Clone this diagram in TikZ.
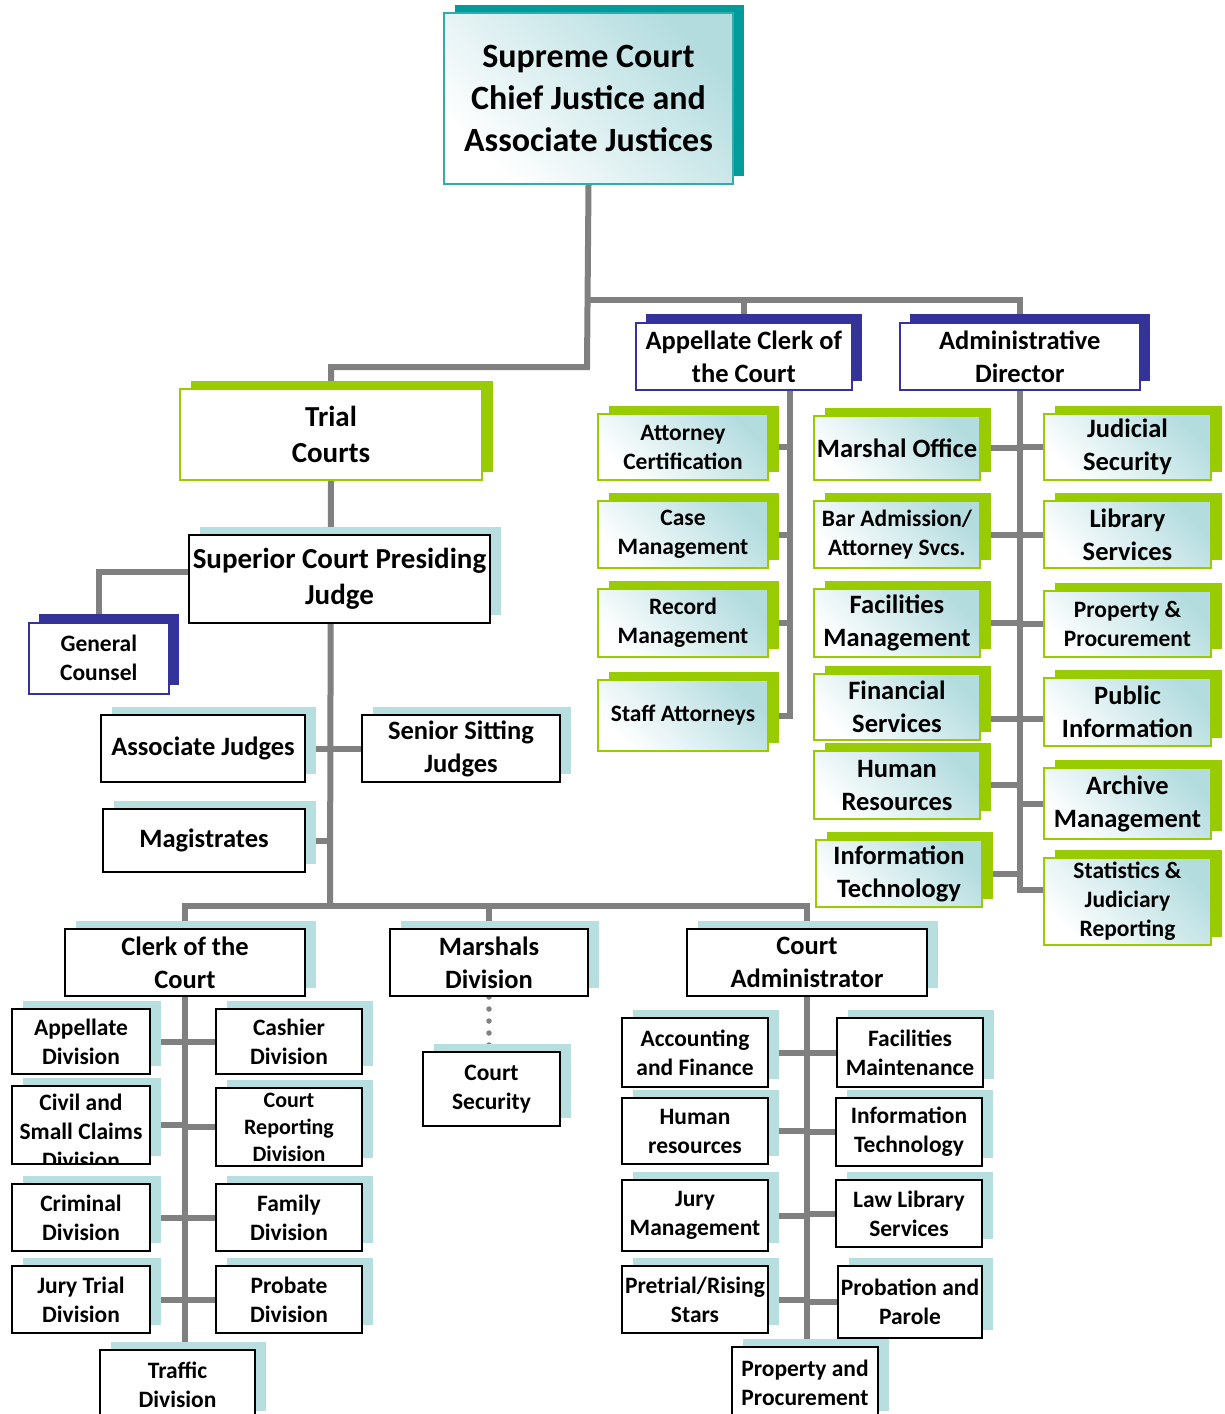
\documentclass[tikz,border=0pt]{standalone}
\usepackage{fontspec}
\setmainfont{Carlito}
\usetikzlibrary{shadows}
\definecolor{conncol}{HTML}{808080}
\definecolor{grn}{HTML}{99CC00}
\definecolor{dblue}{HTML}{333399}
\definecolor{lblue}{HTML}{B7DFE0}
\definecolor{tealsh}{HTML}{009C9C}
\definecolor{tealbd}{HTML}{33AAAC}
\definecolor{gradc}{HTML}{B3DCDF}
\newcommand\FsXL{\fontsize{34}{42}\selectfont\bfseries}
\newcommand\FsM{\fontsize{29}{36}\selectfont\bfseries}
\newcommand\FsL{\fontsize{26.5}{33}\selectfont\bfseries}
\newcommand\FsS{\fontsize{23.5}{29}\selectfont\bfseries}
\newcommand\FsXS{\fontsize{22}{27}\selectfont\bfseries}
\pgfdeclarelayer{bg}
\pgfsetlayers{bg,main}
\tikzset{
  bx/.style={rectangle, anchor=north west, inner sep=0pt, align=center, line width=2pt, text=black},
  blackbox/.style={bx, draw=black, fill=white,
    general shadow={fill=lblue, shadow xshift=10.5pt, shadow yshift=8pt}},
  bluebox/.style={bx, draw=dblue, line width=1.6pt, fill=white,
    general shadow={fill=dblue, shadow xshift=10.5pt, shadow yshift=9pt}},
  greenwhite/.style={bx, draw=grn, fill=white,
    general shadow={fill=grn, shadow xshift=10.5pt, shadow yshift=8pt}},
  greengrad/.style={bx, draw=grn, top color=gradc, bottom color=white, shading angle=-45,
    general shadow={fill=grn, shadow xshift=10.5pt, shadow yshift=8.5pt}},
  topbox/.style={bx, draw=tealbd, top color=gradc, bottom color=white, shading angle=-45,
    general shadow={fill=tealsh, shadow xshift=10.5pt, shadow yshift=8.5pt}},
  conn/.style={draw=conncol, line width=6pt},
  dotconn/.style={draw=conncol, line width=5.5pt, line cap=round, dash pattern=on 0pt off 12pt}
}
\begin{document}
\begin{tikzpicture}[x=1pt,y=-1pt]
\useasboundingbox (0,0) rectangle (1225,1414);
% top
\node[topbox, minimum width=289pt, minimum height=171pt, font=\FsXL] (sc) at (443,12) {Supreme Court\\Chief Justice and\\Associate Justices};
\node[bluebox, minimum width=216pt, minimum height=67pt, font=\FsL] (acl) at (635,322) {Appellate Clerk of\\the Court};
\node[bluebox, minimum width=240pt, minimum height=67pt, font=\FsL] (ad) at (899,322) {Administrative\\Director};
% trial courts branch
\node[greenwhite, minimum width=302pt, minimum height=91pt, font=\FsM] (tc) at (179,388) {Trial\\Courts};
\node[blackbox, minimum width=301pt, minimum height=88pt, font=\FsM] (sup) at (188,534) {Superior Court Presiding\\Judge};
\node[bluebox, minimum width=140pt, minimum height=71pt, font=\FsS] (gc) at (28,622) {General\\Counsel};
\node[blackbox, minimum width=204pt, minimum height=67pt, font=\FsL] (aj) at (100,714) {Associate Judges};
\node[blackbox, minimum width=198pt, minimum height=67pt, font=\FsL] (ssj) at (361,714) {Senior Sitting\\Judges};
\node[blackbox, minimum width=202pt, minimum height=63pt, font=\FsL] (mag) at (102,808) {Magistrates};
\node[blackbox, minimum width=240pt, minimum height=67pt, font=\FsL] (clk) at (64,928) {Clerk of the\\Court};
\node[blackbox, minimum width=198pt, minimum height=67pt, font=\FsL] (mar) at (389,928) {Marshals\\Division};
\node[blackbox, minimum width=240pt, minimum height=67pt, font=\FsL] (cad) at (686,928) {Court\\Administrator};
% clerk children
\node[blackbox, minimum width=138pt, minimum height=65pt, font=\FsS] (apd) at (11,1008) {Appellate\\Division};
\node[blackbox, minimum width=146pt, minimum height=65pt, font=\FsS] (csh) at (215,1008) {Cashier\\Division};
\node[blackbox, minimum width=138pt, minimum height=78pt] (civ) at (11,1085) {};
\begin{scope}
\clip ([xshift=1pt,yshift=-1pt]civ.north west) rectangle ([xshift=-1pt,yshift=1pt]civ.south east);
\node[anchor=north, align=center, inner sep=0pt, font=\FsS] (civt) at ([yshift=-9pt]civ.north) {Civil and\\Small Claims\\Division};
\end{scope}
\node[blackbox, minimum width=146pt, minimum height=78pt, font=\FsXS] (crd) at (215,1087) {Court\\Reporting\\Division};
\node[blackbox, minimum width=138pt, minimum height=67pt, font=\FsS] (crim) at (11,1183) {Criminal\\Division};
\node[blackbox, minimum width=146pt, minimum height=67pt, font=\FsS] (fam) at (215,1183) {Family\\Division};
\node[blackbox, minimum width=138pt, minimum height=67pt, font=\FsS] (jtd) at (11,1265) {Jury Trial\\Division};
\node[blackbox, minimum width=146pt, minimum height=67pt, font=\FsS] (prb) at (215,1265) {Probate\\Division};
\node[blackbox, minimum width=155pt, minimum height=69pt, font=\FsS] (trf) at (99,1349) {Traffic\\Division};
% marshals child
\node[blackbox, minimum width=137pt, minimum height=74pt, font=\FsS] (cs) at (422,1051) {Court\\Security};
% court administrator children
\node[blackbox, minimum width=146pt, minimum height=69pt, font=\FsS] (acf) at (621,1017) {Accounting\\and Finance};
\node[blackbox, minimum width=146pt, minimum height=69pt, font=\FsS] (fmn) at (836,1017) {Facilities\\Maintenance};
\node[blackbox, minimum width=146pt, minimum height=66pt, font=\FsS] (hrs) at (621,1097) {Human\\resources};
\node[blackbox, minimum width=146pt, minimum height=68pt, font=\FsS] (its) at (835,1097) {Information\\Technology};
\node[blackbox, minimum width=146pt, minimum height=71pt, font=\FsS] (jmg) at (621,1179) {Jury\\Management};
\node[blackbox, minimum width=146pt, minimum height=67pt, font=\FsS] (lls) at (835,1179) {Law Library\\Services};
\node[blackbox, minimum width=146pt, minimum height=67pt, font=\FsS] (pre) at (621,1265) {Pretrial/Rising\\Stars};
\node[blackbox, minimum width=144pt, minimum height=72pt, font=\FsS] (pbp) at (837,1265) {Probation and\\Parole};
\node[blackbox, minimum width=146pt, minimum height=72pt, font=\FsS] (ppr) at (731,1346) {Property and\\Procurement};
% appellate clerk children
\node[greengrad, minimum width=170pt, minimum height=66pt, font=\FsS] (atc) at (597,413) {Attorney\\Certification};
\node[greengrad, minimum width=170pt, minimum height=67pt, font=\FsS] (cmg) at (597,500) {Case\\Management};
\node[greengrad, minimum width=170pt, minimum height=68pt, font=\FsS] (rmg) at (597,588) {Record\\Management};
\node[greengrad, minimum width=170pt, minimum height=71pt, font=\FsS] (sat) at (597,679) {Staff Attorneys};
% administrative director children
\node[greengrad, minimum width=166pt, minimum height=64pt, font=\FsL] (mof) at (813,415) {Marshal Office};
\node[greengrad, minimum width=166pt, minimum height=67pt, font=\FsS] (bar) at (813,500) {Bar Admission/\\Attorney Svcs.};
\node[greengrad, minimum width=166pt, minimum height=68pt, font=\FsL] (fcm) at (813,588) {Facilities\\Management};
\node[greengrad, minimum width=166pt, minimum height=66pt, font=\FsL] (fin) at (813,673) {Financial\\Services};
\node[greengrad, minimum width=166pt, minimum height=68pt, font=\FsL] (hum) at (813,750) {Human\\Resources};
\node[greengrad, minimum width=166pt, minimum height=67pt, font=\FsL] (itg) at (815,839) {Information\\Technology};
\node[greengrad, minimum width=167pt, minimum height=66pt, font=\FsL] (jsc) at (1043,413) {Judicial\\Security};
\node[greengrad, minimum width=167pt, minimum height=67pt, font=\FsL] (lib) at (1043,500) {Library\\Services};
\node[greengrad, minimum width=167pt, minimum height=66pt, font=\FsS] (ppc) at (1043,590) {Property \&\\Procurement};
\node[greengrad, minimum width=167pt, minimum height=68pt, font=\FsL] (pub) at (1043,677) {Public\\Information};
\node[greengrad, minimum width=167pt, minimum height=71pt, font=\FsL] (arc) at (1043,767) {Archive\\Management};
\node[greengrad, minimum width=167pt, minimum height=87pt, font=\FsS] (sta) at (1043,857) {Statistics \&\\Judiciary\\Reporting};
% junction coordinates
\coordinate (jr) at (587,300);
\coordinate (jt) at (587,367);
\coordinate (asp) at (790,389);
\coordinate (bus) at (330,906);
\coordinate (gcj) at ([yshift=7pt]sup.west);
\coordinate (finc) at ([yshift=-12pt]fin.east);
\coordinate (pubc) at ([yshift=-7pt]pub.west);
\coordinate (stac) at ([yshift=12pt]sta.west);
\begin{pgfonlayer}{bg}
\draw[conn] (sc.south) -- (jt) -| (tc.north);
\draw[conn] (jr) -| (acl.north);
\draw[conn] (jr) -| (ad.north);
\draw[conn] (tc.south) -- (bus);
\draw[conn] (gcj) -| (gc.north);
\draw[conn] (aj.east) -- (ssj.west);
\draw[conn] (mag.east) -- (mag.east -| bus);
\draw[conn] (clk.north) |- (bus) -| (cad.north);
\draw[conn] (mar.north) -- (mar.north |- bus);
\draw[dotconn] (mar.south) -- (mar.south |- cs.north);
% clerk spine
\draw[conn] (clk.south) -- (clk.south |- trf.north);
\draw[conn] (apd.east) -- (apd.east -| clk.south);
\draw[conn] (csh.west) -- (csh.west -| clk.south);
\draw[conn] (civ.east) -- (civ.east -| clk.south);
\draw[conn] (crd.west) -- (crd.west -| clk.south);
\draw[conn] (crim.east) -- (fam.west);
\draw[conn] (jtd.east) -- (prb.west);
% court administrator spine
\draw[conn] (cad.south) -- (cad.south |- ppr.north);
\draw[conn] (acf.east) -- (fmn.west);
\draw[conn] (hrs.east) -- (hrs.east -| cad.south);
\draw[conn] (its.west) -- (its.west -| cad.south);
\draw[conn] (jmg.east) -- (jmg.east -| cad.south);
\draw[conn] (lls.west) -- (lls.west -| cad.south);
\draw[conn] (pre.east) -- (pre.east -| cad.south);
\draw[conn] (pbp.west) -- (pbp.west -| cad.south);
% appellate clerk spine
\draw[conn] (asp) |- (sat.east);
\draw[conn] (atc.east) -- (atc.east -| asp);
\draw[conn] (cmg.east) -- (cmg.east -| asp);
\draw[conn] (rmg.east) -- (rmg.east -| asp);
% administrative director spine
\draw[conn] (ad.south) |- (stac);
\draw[conn] (mof.east) -- (mof.east -| ad.south);
\draw[conn] (jsc.west) -- (jsc.west -| ad.south);
\draw[conn] (bar.east) -- (bar.east -| ad.south);
\draw[conn] (lib.west) -- (lib.west -| ad.south);
\draw[conn] (fcm.east) -- (fcm.east -| ad.south);
\draw[conn] (ppc.west) -- (ppc.west -| ad.south);
\draw[conn] (finc) -- (finc -| ad.south);
\draw[conn] (pubc) -- (pubc -| ad.south);
\draw[conn] (hum.east) -- (hum.east -| ad.south);
\draw[conn] (arc.west) -- (arc.west -| ad.south);
\draw[conn] (itg.east) -- (itg.east -| ad.south);
\end{pgfonlayer}
\end{tikzpicture}
\end{document}
